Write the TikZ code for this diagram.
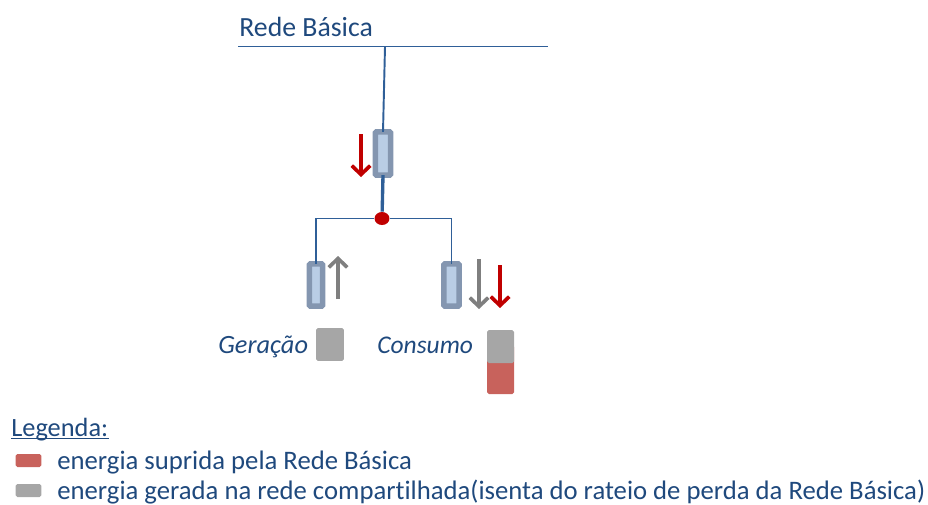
\documentclass[tikz,border=0pt]{standalone}
\usepackage{fontspec}
\setmainfont[Ligatures=NoCommon]{Carlito}
\usepackage{tikz}
\usetikzlibrary{arrows.meta,shapes.geometric}
\definecolor{textblue}{HTML}{1F497D}
\definecolor{lineblue}{HTML}{2F5F98}
\definecolor{boxedge}{HTML}{8496B0}
\definecolor{boxfill}{HTML}{B9CDE5}
\definecolor{redarrow}{HTML}{C00000}
\definecolor{grayarrow}{HTML}{7F7F7F}
\definecolor{graypatch}{HTML}{A6A6A6}
\definecolor{redpatch}{HTML}{C8625C}
\tikzset{
  caption/.style={anchor=base west, inner sep=0pt, text=textblue, font=\fontsize{15.2pt}{17pt}\selectfont},
  breaker/.style={draw=boxedge, fill=boxfill, line width=3.2pt, rounded corners=0.6pt, minimum width=8.7pt, inner sep=0pt, outer sep=0pt},
  flow/.style={line width=2.1pt, -{Straight Barb[length=5pt, width=10.5pt, line width=2.1pt]}},
  patch/.style={inner sep=0pt, rounded corners=1pt},
  feeder/.style={lineblue, line width=1.1pt}
}
\begin{document}
\begin{tikzpicture}[x=0.02cm, y=-0.02cm]
            \useasboundingbox (0,0) rectangle (928,504);

            \coordinate (busLeft) at (238,46.5);
            \coordinate (busRight) at (548,46.5);
            \coordinate (busTap) at (385,46.5);
            \draw[feeder] (busLeft) -- (busRight);

            \node[breaker, minimum height=24.6pt] (breakerTop) at (383,153.5) {};
            \node[breaker, minimum height=24pt, minimum width=7.6pt] (breakerGen) at (316,285) {};
            \node[breaker, minimum height=24pt] (breakerLoad) at (451.5,285) {};
            \node[ellipse, fill=redarrow, inner sep=0pt, minimum width=8.5pt, minimum height=7.4pt] (junction) at (382,218.5) {};

            \draw[feeder] (busTap) -- (breakerTop.north);
            \draw[lineblue, line width=1.9pt] (breakerTop.south) -- (junction);
            \draw[feeder] (junction) -| (breakerGen.north);
            \draw[feeder] (junction) -| (breakerLoad.north);

            \coordinate (topFrom) at (361,134);
            \coordinate (topTo) at (361,177);
            \coordinate (genFrom) at (338,299);
            \coordinate (genTo) at (338,256);
            \coordinate (loadFrom) at (479,259);
            \coordinate (loadTo) at (479,309);
            \coordinate (supplyFrom) at (500,265);
            \coordinate (supplyTo) at (500,308);
            \draw[flow, redarrow] (topFrom) -- (topTo);
            \draw[flow, grayarrow] (genFrom) -- (genTo);
            \draw[flow, grayarrow] (loadFrom) -- (loadTo);
            \draw[flow, redarrow] (supplyFrom) -- (supplyTo);

            \node[patch, fill=graypatch, minimum width=15.9pt, minimum height=18.7pt] (patchGen) at (330,344.5) {};
            \fill[redpatch, rounded corners=1pt] (487,345) rectangle (514,394);
            \fill[graypatch, rounded corners=1pt] (487,330) rectangle (514,363);
            \node[patch, fill=graypatch, minimum width=14.7pt, minimum height=7.4pt] (keyGray) at (28.5,490.5) {};
            \node[patch, fill=redpatch, minimum width=14.7pt, minimum height=7.4pt] (keyRed) at (28.5,460.5) {};

            \node[caption, font=\fontsize{15.8pt}{17pt}\selectfont] (titleBus) at (239,36) {Rede Básica};
            \node[caption, font=\fontsize{15pt}{17pt}\selectfont\itshape] (labelGen) at (218,353) {Geração};
            \node[caption, font=\fontsize{14.5pt}{17pt}\selectfont\itshape] (labelLoad) at (377,353) {Consumo};
            \node[caption, font=\fontsize{15pt}{17pt}\selectfont] (labelKey) at (11,436) {Legenda:};
            \draw[textblue, line width=0.8pt] ([yshift=-1.4pt]labelKey.base west) -- ([yshift=-1.4pt]labelKey.base east);
            \node[caption] (labelRed) at (57,469) {energia suprida pela Rede Básica};
            \node[caption] (labelGray) at (57,499) {energia gerada na rede compartilhada(isenta do rateio de perda da Rede Básica)};
        \end{tikzpicture}
\end{document}
